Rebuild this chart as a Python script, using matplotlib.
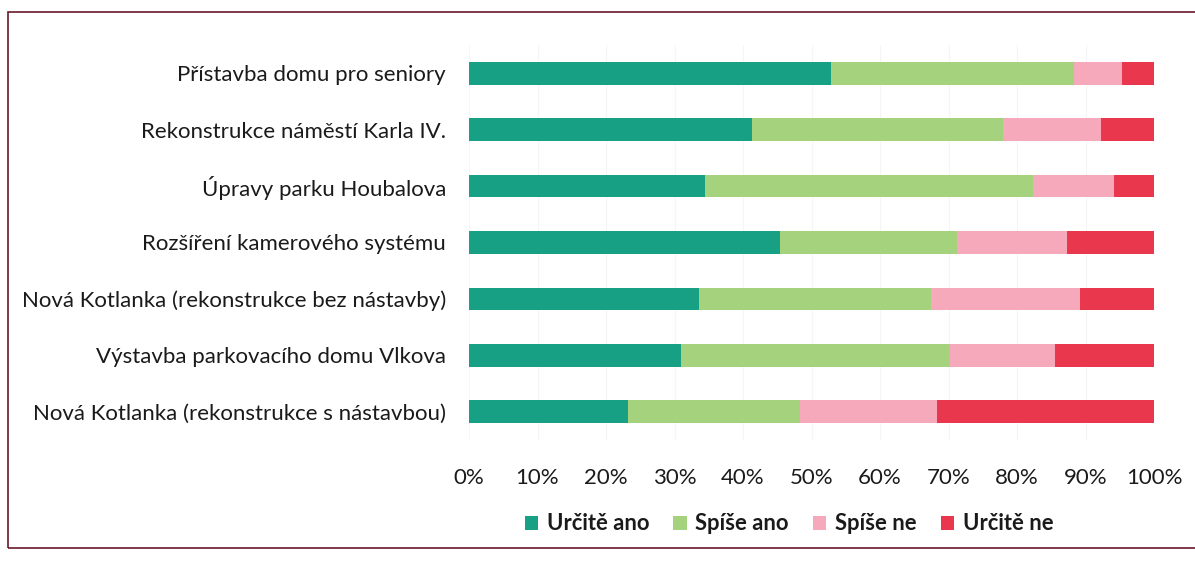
import matplotlib
matplotlib.use("Agg")
import matplotlib.pyplot as plt
from matplotlib.patches import Rectangle
import numpy as np

plt.rcParams['font.family'] = ['Lato', 'DejaVu Sans']

categories = [
    "Přístavba domu pro seniory",
    "Rekonstrukce náměstí Karla IV.",
    "Úpravy parku Houbalova",
    "Rozšíření kamerového systému",
    "Nová Kotlanka (rekonstrukce bez nástavby)",
    "Výstavba parkovacího domu Vlkova",
    "Nová Kotlanka (rekonstrukce s nástavbou)",
]
urcite_ano = [52.8, 41.3, 34.5, 45.4, 33.6, 30.9, 23.2]
spise_ano = [35.5, 36.7, 47.8, 25.8, 33.8, 39.3, 25.1]
spise_ne = [7.0, 14.3, 11.9, 16.1, 21.8, 15.3, 20.0]
urcite_ne = [4.7, 7.7, 5.8, 12.7, 10.8, 14.5, 31.7]
series_names = ["Určitě ano", "Spíše ano", "Spíše ne", "Určitě ne"]
colors = ["#17a083", "#a5d27c", "#f5a9bb", "#e9384d"]
xticks = [0, 10, 20, 30, 40, 50, 60, 70, 80, 90, 100]
xticklabels = [f"{t}%" for t in xticks]

fig = plt.figure(figsize=(11.95, 5.62), dpi=100)
ax = fig.add_axes([469/1195, 1-440/562, (1154-469)/1195, (440-45)/562])

y = np.arange(len(categories))
left = np.zeros(len(categories))
for vals, name, c in zip([urcite_ano, spise_ano, spise_ne, urcite_ne], series_names, colors):
    vals = np.array(vals)
    ax.barh(y, vals, left=left, height=0.4, color=c, label=name, zorder=3)
    left += vals

ax.set_xlim(0, 100)
ax.set_ylim(len(categories) - 0.5, -0.5)
ax.set_yticks(y)
ax.set_yticklabels(categories, fontsize=16, color="#1a1a1a")
ax.set_xticks(xticks)
ax.set_xticklabels(xticklabels, fontsize=16, color="#1a1a1a")
ax.tick_params(axis='both', length=0)
ax.tick_params(axis='y', pad=16.5)
ax.tick_params(axis='x', pad=20)
for s in ax.spines.values():
    s.set_visible(False)
ax.grid(axis='x', color="#f5f5f5", linewidth=0.8, zorder=0)

leg = fig.legend(loc='center', bbox_to_anchor=(789/1195, 1-524/562), ncol=4, frameon=False,
                 fontsize=15.8, handlelength=0.6, handleheight=0.6, handletextpad=0.4,
                 columnspacing=1.1)
for t in leg.get_texts():
    t.set_fontweight('bold')
    t.set_color("#1a1a1a")

fig.patches.append(Rectangle((8/1195, 1-548/562), 1.2, (548-12)/562, transform=fig.transFigure,
                             fill=False, edgecolor="#6a1a2c", linewidth=1.2))

fig.savefig("out.png", dpi=100)
